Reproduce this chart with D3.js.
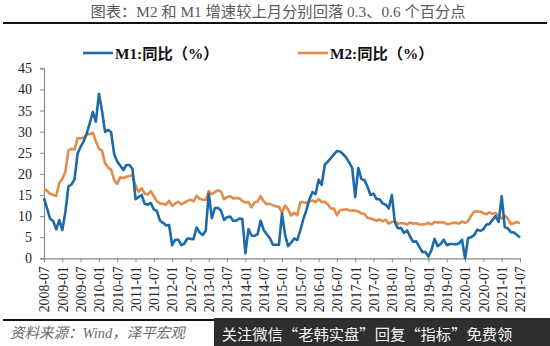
<!DOCTYPE html>
<html>
<head>
<meta charset="utf-8">
<script src="https://cdn.jsdelivr.net/npm/d3@7/dist/d3.min.js"></script>
<style>
  html, body { margin: 0; padding: 0; background: #fff; }
  svg { display: block; }
</style>
</head>
<body>
<svg id="chart" width="550" height="346"></svg>
<script>
// Monthly year-on-year growth, 2008-07 .. 2021-07
const startYear = 2008, startMonth = 7;

const m1 = [
  14.26, 11.85, 9.37, 8.85, 6.84, 9.06,
  6.68, 10.91, 17.04, 17.48, 18.69, 24.79, 26.37, 27.72, 29.51, 32.03, 34.63, 32.35,
  38.96, 34.99, 29.94, 30.45, 29.87, 24.64, 22.93, 21.92, 20.92, 22.1, 22.1, 21.19,
  14.0, 14.5, 15.0, 12.9, 12.7, 13.1, 11.6, 11.2, 8.9, 8.4, 7.8, 7.9,
  3.1, 4.4, 4.4, 3.1, 3.5, 4.7, 4.6, 4.5, 7.3, 6.1, 5.5, 6.5,
  15.3, 9.5, 11.9, 11.9, 11.3, 9.1, 9.7, 9.9, 8.9, 8.9, 9.4, 9.3,
  1.2, 6.9, 5.4, 5.3, 5.7, 8.9, 6.7, 5.7, 4.8, 3.2, 3.2, 3.2,
  10.6, 5.6, 2.9, 3.7, 4.7, 4.3, 6.6, 9.3, 11.4, 14.0, 15.7, 15.2,
  18.6, 17.4, 22.1, 22.9, 23.7, 24.6, 25.4, 25.3, 24.7, 23.9, 22.7, 21.4,
  14.5, 21.4, 18.8, 18.5, 17.0, 15.0, 15.3, 14.0, 14.0, 13.0, 12.7, 11.8,
  15.0, 8.5, 7.1, 7.2, 6.0, 6.6, 5.1, 3.9, 4.0, 2.7, 1.5, 1.5,
  0.4, 2.0, 4.6, 2.9, 3.4, 4.4, 3.1, 3.4, 3.4, 3.3, 3.5, 4.4,
  0.0, 4.8, 5.0, 5.5, 6.8, 6.5, 6.9, 8.0, 8.1, 9.1, 10.0, 8.6,
  14.7, 7.4, 7.1, 6.2, 6.1, 5.5, 4.9
];

const m2 = [
  16.35, 16.0, 15.29, 15.02, 14.8, 17.82,
  18.79, 20.48, 25.51, 25.95, 25.74, 28.46, 28.42, 28.53, 29.31, 29.42, 29.74, 27.68,
  25.98, 25.52, 22.5, 21.48, 21.0, 18.5, 17.6, 19.2, 19.0, 19.3, 19.5, 19.72,
  17.2, 15.7, 16.6, 15.3, 15.1, 15.9, 14.7, 13.5, 13.0, 12.9, 12.7, 13.6,
  12.4, 13.0, 13.4, 12.8, 13.2, 13.6, 13.9, 13.5, 14.8, 14.1, 13.9, 13.8,
  15.9, 15.2, 15.7, 16.1, 15.8, 14.0, 14.5, 14.7, 14.2, 14.3, 14.2, 13.6,
  13.2, 13.3, 12.1, 13.2, 13.4, 14.7, 13.5, 12.8, 12.9, 12.6, 12.3, 12.2,
  10.8, 12.5, 11.6, 10.1, 10.8, 10.2, 13.3, 13.3, 13.1, 13.5, 13.7, 13.3,
  14.0, 13.3, 13.4, 12.8, 11.8, 11.8, 10.2, 11.4, 11.5, 11.6, 11.4, 11.3,
  11.3, 11.1, 10.6, 10.5, 9.6, 9.4, 9.2, 8.9, 9.2, 8.8, 9.1, 8.2,
  8.6, 8.8, 8.2, 8.3, 8.3, 8.0, 8.5, 8.2, 8.3, 8.0, 8.0, 8.1,
  8.4, 8.0, 8.6, 8.5, 8.5, 8.5, 8.1, 8.2, 8.4, 8.4, 8.2, 8.7,
  8.4, 8.8, 10.1, 11.1, 11.1, 11.1, 10.7, 10.4, 10.9, 10.5, 10.7, 10.1,
  9.4, 10.1, 9.4, 8.1, 8.3, 8.6, 8.3
];

const tickLabels = [
  "2008-07", "2009-01", "2009-07", "2010-01", "2010-07", "2011-01", "2011-07",
  "2012-01", "2012-07", "2013-01", "2013-07", "2014-01", "2014-07", "2015-01",
  "2015-07", "2016-01", "2016-07", "2017-01", "2017-07", "2018-01", "2018-07",
  "2019-01", "2019-07", "2020-01", "2020-07", "2021-01", "2021-07"
];
const yTicks = [0, 5, 10, 15, 20, 25, 30, 35, 40, 45];

const seriesNames = ["M1:同比（%）", "M2:同比（%）"];
const titleText = "图表：M2 和 M1 增速较上月分别回落 0.3、0.6 个百分点";
const sourceText = "资料来源：Wind，泽平宏观";
const bannerText = "关注微信“老韩实盘”回复“指标”免费领";

const colors = { m1: "#1c6ba8", m2: "#e38b4b" };

// category label for month index i
function monthLabel(i) {
  const t = startYear * 12 + (startMonth - 1) + i;
  const y = Math.floor(t / 12), m = t % 12 + 1;
  return y + "-" + String(m).padStart(2, "0");
}
const months = m1.map((_, i) => monthLabel(i));

const svg = d3.select("#chart");
const serif = "'Liberation Serif', 'Times New Roman', 'Noto Sans CJK SC', serif";
const cjk = "'Liberation Serif', 'Noto Sans CJK SC', sans-serif";

// title and rule
svg.append("text")
  .attr("x", 278).attr("y", 17)
  .attr("text-anchor", "middle")
  .attr("font-family", cjk).attr("font-size", 15.3)
  .attr("fill", "#5a5a5a")
  .text(titleText);
svg.append("line")
  .attr("x1", 3).attr("x2", 547).attr("y1", 23).attr("y2", 23)
  .attr("stroke", "#111").attr("stroke-width", 2);

// scales
const x = d3.scaleLinear().domain([0, months.length - 1]).range([44, 520]);
const y = d3.scaleLinear().domain([0, 45]).range([258.3, 68.3]);

// y axis
const yAxis = d3.axisLeft(y).tickValues(yTicks).tickSize(4).tickPadding(8).tickFormat(d3.format("d"));
const gy = svg.append("g").attr("transform", "translate(44,0)").call(yAxis);
gy.select(".domain").attr("stroke", "#8a8a8a").attr("stroke-width", 1.2);
gy.selectAll(".tick line").attr("stroke", "#8a8a8a");
gy.selectAll(".tick text")
  .attr("font-family", serif).attr("font-size", 14).attr("fill", "#222");

// x axis: a tick every six months
const tickIdx = tickLabels.map(l => months.indexOf(l));
const xAxis = d3.axisBottom(x).tickValues(tickIdx).tickSize(4).tickPadding(5)
  .tickFormat(i => months[i]);
const gx = svg.append("g").attr("transform", "translate(0,258.3)").call(xAxis);
gx.select(".domain").attr("stroke", "#8a8a8a").attr("stroke-width", 1.2);
gx.selectAll(".tick line").attr("stroke", "#8a8a8a");
gx.selectAll(".tick text")
  .attr("font-family", serif).attr("font-size", 13.8).attr("fill", "#222")
  .attr("transform", "rotate(-90)")
  .attr("text-anchor", "end")
  .attr("x", -8).attr("y", 0).attr("dy", "0.35em");

// lines
const line = d3.line().x((d, i) => x(i)).y(d => y(d)).curve(d3.curveLinear);
svg.append("path").datum(m2)
  .attr("d", line).attr("fill", "none")
  .attr("stroke", colors.m2).attr("stroke-width", 2.6).attr("stroke-linejoin", "round");
svg.append("path").datum(m1)
  .attr("d", line).attr("fill", "none")
  .attr("stroke", colors.m1).attr("stroke-width", 2.6).attr("stroke-linejoin", "round");

// legend
const legend = [
  { name: seriesNames[0], color: colors.m1, x: 83 },
  { name: seriesNames[1], color: colors.m2, x: 298 }
];
const lg = svg.append("g").selectAll("g").data(legend).join("g")
  .attr("transform", d => `translate(${d.x},53)`);
lg.append("line").attr("x1", 0).attr("x2", 30).attr("y1", 0).attr("y2", 0)
  .attr("stroke", d => d.color).attr("stroke-width", 2.6);
lg.append("text").attr("x", 32).attr("y", 5.5)
  .attr("font-family", cjk).attr("font-size", 15.3).attr("font-weight", "bold")
  .attr("fill", "#111")
  .text(d => d.name);

// footer rule and source
svg.append("line")
  .attr("x1", 3).attr("x2", 547).attr("y1", 320).attr("y2", 320)
  .attr("stroke", "#111").attr("stroke-width", 2);
svg.append("text")
  .attr("x", 10).attr("y", 338)
  .attr("font-family", cjk).attr("font-size", 14.5).attr("font-style", "italic")
  .attr("fill", "#6a6a6a")
  .text(sourceText);

// banner
svg.append("rect").attr("x", 214).attr("y", 318).attr("width", 336).attr("height", 28)
  .attr("fill", "#2e2e2e");
svg.append("text")
  .attr("x", 367).attr("y", 340)
  .attr("text-anchor", "middle")
  .attr("font-family", "'Noto Sans CJK SC', sans-serif").attr("font-size", 15.3)
  .attr("fill", "#f2f2f2")
  .text(bannerText);
</script>
</body>
</html>
